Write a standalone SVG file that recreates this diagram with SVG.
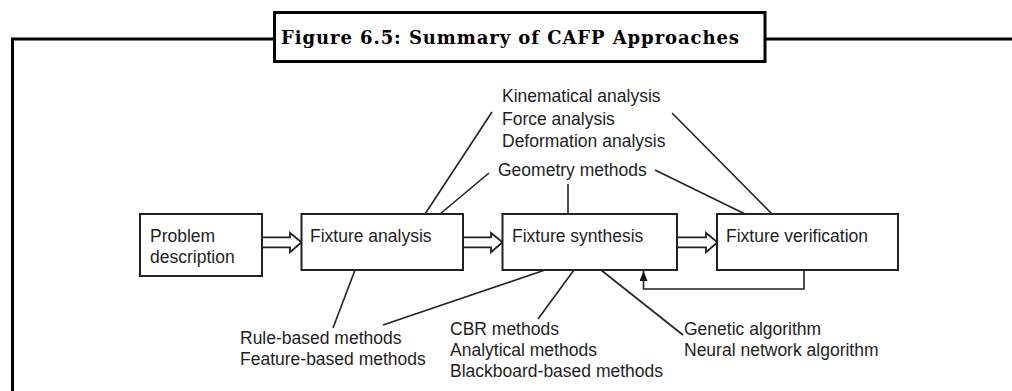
<svg xmlns="http://www.w3.org/2000/svg" width="1012" height="391" viewBox="0 0 1012 391">
  <style>
    .frame { fill: none; stroke: #000; stroke-width: 3; }
    .box { fill: #fff; stroke: #222; stroke-width: 2; }
    .lbl { font-family: "Liberation Sans", Arial, sans-serif; font-size: 17.5px; fill: #1e1e1e; }
    .title { font-family: "DejaVu Serif", "Liberation Serif", serif; font-size: 18px; font-weight: bold; fill: #000; }
    .ln { fill: none; stroke: #222; stroke-width: 1.6; }
    .harrow { fill: #fff; stroke: #222; stroke-width: 1.8; stroke-linejoin: miter; }
  </style>
  <defs>
    <marker id="solid" viewBox="0 0 10 8" refX="10" refY="4" markerWidth="10" markerHeight="8" markerUnits="userSpaceOnUse" orient="auto">
      <path d="M0,0 L10,4 L0,8 Z" fill="#111"/>
    </marker>
  </defs>
  <rect width="1012" height="391" fill="#fff"/>

  <g id="frame">
    <polyline class="frame" points="12.5,391 12.5,39 274,39"/>
    <line class="frame" x1="765" y1="39" x2="1012" y2="39"/>
    <rect class="frame" x="274.5" y="12.5" width="490.5" height="49" fill="#fff"/>
    <text class="title" x="281" y="43.5" textLength="458" lengthAdjust="spacing">Figure 6.5: Summary of CAFP Approaches</text>
  </g>

  <g id="connectors">
    <path class="harrow" d="M262,237.3 H290 V233 L301.5,242.3 L290,252.3 V247.3 H262"/>
    <path class="harrow" d="M463,237.3 H491 V233 L502.5,242.3 L491,252.3 V247.3 H463"/>
    <path class="harrow" d="M677,237.3 H706 V233 L717.5,242.3 L706,252.3 V247.3 H677"/>
    <polyline class="ln" points="804,270 804,289 643.5,289 643.5,271" marker-end="url(#solid)"/>
    <line class="ln" x1="425" y1="214" x2="492" y2="112"/>
    <line class="ln" x1="440" y1="214" x2="489" y2="173"/>
    <line class="ln" x1="568" y1="214" x2="568" y2="184"/>
    <line class="ln" x1="655" y1="170" x2="745" y2="214"/>
    <line class="ln" x1="672" y1="113" x2="772" y2="214"/>
    <line class="ln" x1="355" y1="270" x2="333" y2="328"/>
    <line class="ln" x1="545" y1="270" x2="383" y2="325"/>
    <line class="ln" x1="574" y1="270" x2="538" y2="319"/>
    <line class="ln" x1="601" y1="270" x2="683" y2="335"/>
  </g>

  <g id="problem">
    <rect class="box" x="140" y="214" width="122" height="62"/>
    <text class="lbl" x="150" y="242">Problem</text>
    <text class="lbl" x="150" y="263">description</text>
  </g>
  <g id="analysis">
    <rect class="box" x="301.5" y="214" width="161.5" height="56"/>
    <text class="lbl" x="310" y="242">Fixture analysis</text>
  </g>
  <g id="synthesis">
    <rect class="box" x="502.5" y="214" width="174.5" height="56"/>
    <text class="lbl" x="512" y="242">Fixture synthesis</text>
  </g>
  <g id="verification">
    <rect class="box" x="717" y="214" width="181" height="56"/>
    <text class="lbl" x="726" y="242">Fixture verification</text>
  </g>

  <g id="top-labels">
    <text class="lbl" x="502" y="102">Kinematical analysis</text>
    <text class="lbl" x="502" y="125">Force analysis</text>
    <text class="lbl" x="502" y="147">Deformation analysis</text>
    <text class="lbl" x="498" y="176">Geometry methods</text>
  </g>
  <g id="bottom-labels">
    <text class="lbl" x="240" y="344">Rule-based methods</text>
    <text class="lbl" x="240" y="365">Feature-based methods</text>
    <text class="lbl" x="450" y="335">CBR methods</text>
    <text class="lbl" x="450" y="356">Analytical methods</text>
    <text class="lbl" x="450" y="377">Blackboard-based methods</text>
    <text class="lbl" x="684" y="335">Genetic algorithm</text>
    <text class="lbl" x="684" y="356">Neural network algorithm</text>
  </g>
</svg>
